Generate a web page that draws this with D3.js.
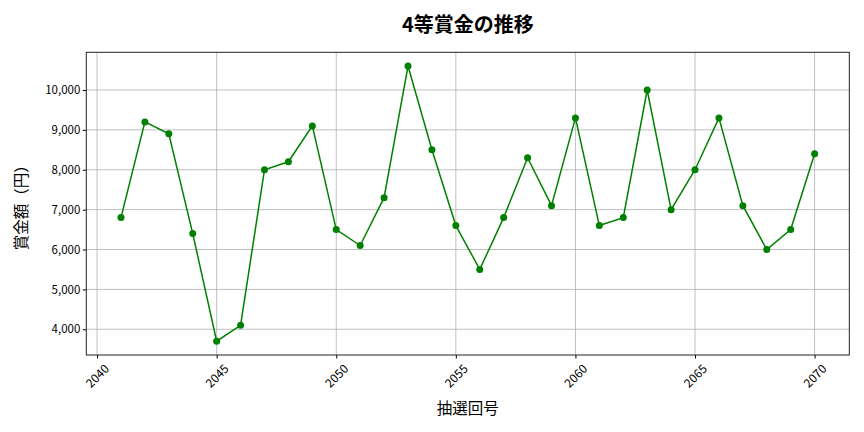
<!DOCTYPE html>
<html>
<head>
<meta charset="utf-8">
<script src="https://cdn.jsdelivr.net/npm/d3@7"></script>
<style>
  body { margin: 0; background: #fff; }
  text { font-family: "Noto Sans CJK JP", "Noto Sans", sans-serif; fill: #000; }
  .tick text { font-size: 11.5px; }
  .xax .tick text { font-size: 12px; }
  .grid line { stroke: #b0b0b0; stroke-width: 0.8; }
</style>
</head>
<body>
<svg id="chart" width="864" height="432"></svg>
<script>
const draws = [2041,2042,2043,2044,2045,2046,2047,2048,2049,2050,
               2051,2052,2053,2054,2055,2056,2057,2058,2059,2060,
               2061,2062,2063,2064,2065,2066,2067,2068,2069,2070]
const prizes = [6800,9200,8900,6400,3700,4100,8000,8200,9100,6500,
                6100,7300,10600,8500,6600,5500,6800,8300,7100,9300,
                6600,6800,10000,7000,8000,9300,7100,6000,6500,8400]
const xTicks = [2040,2045,2050,2055,2060,2065,2070]
const yTicks = [4000,5000,6000,7000,8000,9000,10000]
const title = "4等賞金の推移"
const xLabel = "抽選回号"
const yLabel = "賞金額（円）"

const mLeft = 86.3, mRight = 849.3, mTop = 52.3, mBottom = 355
const svg = d3.select("#chart")

// matplotlib style 5% margins
function pad(ext, p = 0.05) {
    let d = ext[1] - ext[0]
    return [ext[0] - p*d, ext[1] + p*d]
}
let xScale = d3.scaleLinear().domain(pad(d3.extent(draws))).range([mLeft, mRight])
let yScale = d3.scaleLinear().domain(pad(d3.extent(prizes))).range([mBottom, mTop])

// grid
let gx = svg.append("g").attr("class", "grid")
gx.selectAll("line").data(xTicks).enter().append("line")
    .attr("x1", d => xScale(d)).attr("x2", d => xScale(d))
    .attr("y1", mTop).attr("y2", mBottom)
let gy = svg.append("g").attr("class", "grid")
gy.selectAll("line").data(yTicks).enter().append("line")
    .attr("x1", mLeft).attr("x2", mRight)
    .attr("y1", d => yScale(d)).attr("y2", d => yScale(d))

// axes
let xAxis = svg.append("g").attr("class", "xax")
    .attr("transform", `translate(0,${mBottom})`)
    .call(d3.axisBottom(xScale).tickValues(xTicks).tickFormat(d3.format("d")).tickSizeOuter(0).tickSize(3.5))
xAxis.select(".domain").remove()
// rotated labels centred under the tick, like matplotlib rotation=45
xAxis.selectAll(".tick text")
    .attr("text-anchor", "middle")
    .attr("y", 0).attr("dy", "0.35em")
    .attr("transform", "translate(0,21) rotate(-45)")

let yAxis = svg.append("g")
    .attr("transform", `translate(${mLeft},0)`)
    .call(d3.axisLeft(yScale).tickValues(yTicks).tickFormat(d3.format(",")).tickSizeOuter(0).tickSize(3.5))
yAxis.select(".domain").remove()
yAxis.selectAll(".tick text").attr("x", -6)

// frame
svg.append("rect")
    .attr("x", mLeft).attr("y", mTop)
    .attr("width", mRight - mLeft).attr("height", mBottom - mTop)
    .attr("fill", "none").attr("stroke", "#222").attr("stroke-width", 1)

// line + markers
let line = d3.line().x((d, i) => xScale(draws[i])).y(d => yScale(d))
svg.append("path")
    .datum(prizes)
    .attr("d", line)
    .attr("fill", "none")
    .attr("stroke", "green")
    .attr("stroke-width", 1.5)

svg.selectAll(".pt")
    .data(prizes)
    .enter()
    .append("circle")
    .attr("class", "pt")
    .attr("cx", (d, i) => xScale(draws[i]))
    .attr("cy", d => yScale(d))
    .attr("r", 3.5)
    .attr("fill", "green")

// labels
svg.append("text")
    .attr("x", (mLeft + mRight) / 2).attr("y", 32)
    .attr("text-anchor", "middle")
    .style("font-size", "20px").style("font-weight", "bold")
    .text(title)

svg.append("text")
    .attr("x", (mLeft + mRight) / 2).attr("y", 414)
    .attr("text-anchor", "middle")
    .style("font-size", "15.5px")
    .text(xLabel)

svg.append("text")
    .attr("transform", `translate(27,${(mTop + mBottom) / 2}) rotate(-90)`)
    .attr("text-anchor", "middle")
    .style("font-size", "15.5px")
    .text(yLabel)
</script>
</body>
</html>
